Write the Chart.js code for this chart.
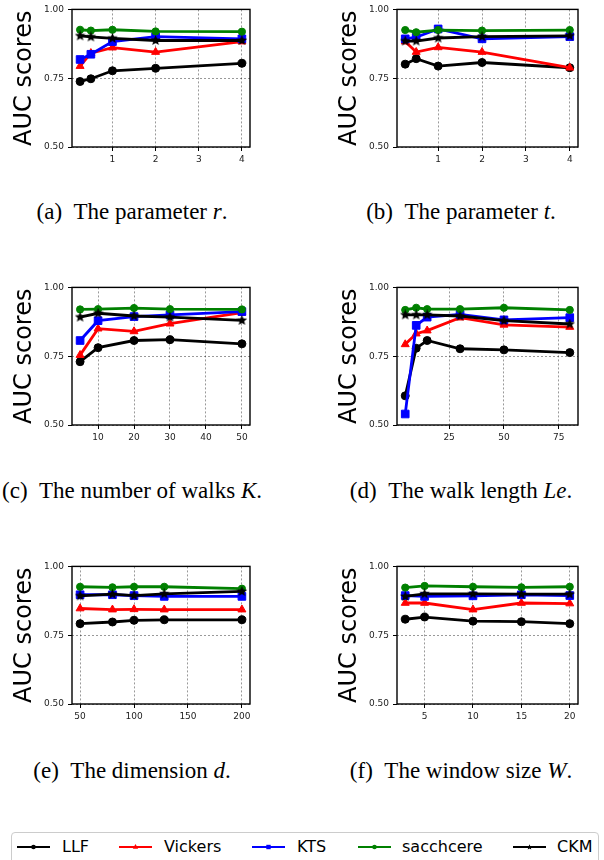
<!DOCTYPE html>
<html>
<head>
<meta charset="utf-8">
<script src="https://cdn.jsdelivr.net/npm/chart.js@4.4.0/dist/chart.umd.min.js"></script>
<style>
  body { margin: 0; width: 604px; height: 860px; background: #fff; position: relative; overflow: hidden; }
  canvas { position: absolute; }
  .caption {
    position: absolute; width: 300px; text-align: center; white-space: nowrap;
    font-family: "Liberation Serif", "Times New Roman", serif; font-size: 23px; line-height: 23px; color: #000;
  }
  .legend {
    position: absolute; left: 11px; top: 832px; width: 586px; height: 40px;
    border: 1px solid #cccccc; border-radius: 4px; background: #fff;
  }
  .legend svg { position: absolute; top: 9px; }
  .legend span {
    position: absolute; top: 6px; font-family: "DejaVu Sans", sans-serif; font-size: 16px; line-height: 16px; color: #000;
  }
</style>
</head>
<body>

<div class="caption" style="left:-18px; top:200px;">(a)&ensp;The parameter <i>r</i>.</div>
<div class="caption" style="left:311px; top:200px;">(b)&ensp;The parameter <i>t</i>.</div>
<div class="caption" style="left:-18px; top:479px;">(c)&ensp;The number of walks <i>K</i>.</div>
<div class="caption" style="left:311px; top:479px;">(d)&ensp;The walk length <i>Le</i>.</div>
<div class="caption" style="left:-18px; top:759px;">(e)&ensp;The dimension <i>d</i>.</div>
<div class="caption" style="left:311px; top:759px;">(f)&ensp;The window size <i>W</i>.</div>

<div class="legend">
  <svg style="left:5px" width="34" height="10"><line x1="0" y1="5" x2="33" y2="5" stroke="#000" stroke-width="2"/><circle cx="16.5" cy="5" r="2.3" fill="#000"/></svg>
  <span style="left:50px">LLF</span>
  <svg style="left:107px" width="34" height="10"><line x1="0" y1="5" x2="33" y2="5" stroke="#f00" stroke-width="2"/><polygon points="16.5,2 19.2,6.7 13.8,6.7" fill="#f00"/></svg>
  <span style="left:152px">Vickers</span>
  <svg style="left:240px" width="34" height="10"><line x1="0" y1="5" x2="33" y2="5" stroke="#00f" stroke-width="2"/><rect x="14.3" y="2.8" width="4.4" height="4.4" fill="#00f"/></svg>
  <span style="left:285px">KTS</span>
  <svg style="left:346px" width="34" height="10"><line x1="0" y1="5" x2="33" y2="5" stroke="#008000" stroke-width="2"/><circle cx="16.5" cy="5" r="2.3" fill="#008000"/></svg>
  <span style="left:390px">sacchcere</span>
  <svg style="left:501px" width="34" height="10"><line x1="0" y1="5" x2="33" y2="5" stroke="#000" stroke-width="2"/><polygon points="16.5,2.2 17.3,4.2 19.3,4.3 17.8,5.6 18.3,7.6 16.5,6.5 14.7,7.6 15.2,5.6 13.7,4.3 15.7,4.2" fill="#000"/></svg>
  <span style="left:545px">CKM</span>
</div>

<script>
// ---------------- Data: x values per panel ----------------
const rValues = [0.25, 0.5, 1, 2, 4];
const tValues = [0.25, 0.5, 1, 2, 4];
const walkCounts = [5, 10, 20, 30, 50];
const walkLengths = [5, 10, 15, 30, 50, 80];
const dimensions = [50, 80, 100, 128, 200];
const windowSizes = [3, 5, 10, 15, 20];

// ---------------- Data: tick labels ----------------
const rTicks = [1, 2, 3, 4];
const tTicks = [1, 2, 3, 4];
const kTicks = [10, 20, 30, 40, 50];
const leTicks = [25, 50, 75];
const dTicks = [50, 100, 150, 200];
const wTicks = [5, 10, 15, 20];
const aucTicks = [0.5, 0.75, 1.0];

// ---------------- Data: AUC scores ----------------
// (a) parameter r
const llfA = [0.738, 0.748, 0.777, 0.786, 0.804];
const vickersA = [0.794, 0.841, 0.861, 0.845, 0.883];
const ktsA = [0.818, 0.837, 0.883, 0.901, 0.893];
const sacchA = [0.926, 0.923, 0.926, 0.920, 0.919];
const ckmA = [0.904, 0.900, 0.895, 0.887, 0.887];
// (b) parameter t
const llfB = [0.801, 0.821, 0.794, 0.807, 0.788];
const vickersB = [0.883, 0.845, 0.862, 0.845, 0.788];
const ktsB = [0.893, 0.899, 0.929, 0.893, 0.901];
const sacchB = [0.925, 0.917, 0.925, 0.923, 0.925];
const ckmB = [0.885, 0.885, 0.896, 0.901, 0.904];
// (c) number of walks K
const llfC = [0.730, 0.781, 0.807, 0.810, 0.795];
const vickersC = [0.754, 0.850, 0.840, 0.868, 0.908];
const ktsC = [0.807, 0.879, 0.894, 0.900, 0.912];
const sacchC = [0.920, 0.921, 0.925, 0.921, 0.920];
const ckmC = [0.892, 0.906, 0.896, 0.892, 0.880];
// (d) walk length Le
const llfD = [0.606, 0.779, 0.807, 0.777, 0.773, 0.763];
const vickersD = [0.793, 0.832, 0.843, 0.890, 0.864, 0.856];
const ktsD = [0.540, 0.862, 0.892, 0.902, 0.882, 0.890];
const sacchD = [0.918, 0.926, 0.921, 0.921, 0.926, 0.918];
const ckmD = [0.900, 0.900, 0.900, 0.896, 0.879, 0.867];
// (e) dimension d
const llfE = [0.792, 0.798, 0.804, 0.806, 0.806];
const vickersE = [0.847, 0.843, 0.844, 0.843, 0.843];
const ktsE = [0.897, 0.897, 0.894, 0.891, 0.891];
const sacchE = [0.926, 0.924, 0.926, 0.926, 0.919];
const ckmE = [0.893, 0.899, 0.894, 0.900, 0.909];
// (f) window size W
const llfF = [0.808, 0.816, 0.801, 0.799, 0.792];
const vickersF = [0.867, 0.867, 0.843, 0.867, 0.865];
const ktsF = [0.894, 0.891, 0.893, 0.897, 0.894];
const sacchF = [0.923, 0.929, 0.926, 0.924, 0.926];
const ckmF = [0.891, 0.900, 0.900, 0.899, 0.899];

const seriesNames = ['LLF', 'Vickers', 'KTS', 'sacchcere', 'CKM'];

// ---------------- Styles ----------------
const seriesColors = ['#000000', '#ff0000', '#0000ff', '#008000', '#000000'];

// filled star like matplotlib's '*' marker
function makeStar(size, color) {
  const c = document.createElement('canvas');
  c.width = size; c.height = size;
  const g = c.getContext('2d');
  const R = size / 2, r = R * 0.45;
  g.beginPath();
  for (let i = 0; i < 10; i++) {
    const rad = i % 2 ? r : R;
    const ang = -Math.PI / 2 + i * Math.PI / 5;
    g.lineTo(R + rad * Math.cos(ang), R + rad * Math.sin(ang));
  }
  g.closePath();
  g.fillStyle = color;
  g.fill();
  return c;
}

const seriesMarkers = ['circle', 'triangle', 'rect', 'circle', makeStar(11, '#000000')];
const seriesRadius = [4, 4.6, 5.4, 3.6, 5];

// plot area of each panel on the page
const panels = [
  { x: rValues, ticks: rTicks, series: [llfA, vickersA, ktsA, sacchA, ckmA], left: 72, top: 7, width: 178 },
  { x: tValues, ticks: tTicks, series: [llfB, vickersB, ktsB, sacchB, ckmB], left: 397, top: 7, width: 181 },
  { x: walkCounts, ticks: kTicks, series: [llfC, vickersC, ktsC, sacchC, ckmC], left: 72, top: 285, width: 178 },
  { x: walkLengths, ticks: leTicks, series: [llfD, vickersD, ktsD, sacchD, ckmD], left: 397, top: 285, width: 181 },
  { x: dimensions, ticks: dTicks, series: [llfE, vickersE, ktsE, sacchE, ckmE], left: 72, top: 564, width: 178 },
  { x: windowSizes, ticks: wTicks, series: [llfF, vickersF, ktsF, sacchF, ckmF], left: 397, top: 564, width: 181 }
];

const Y_AXIS_W = 72;
const X_AXIS_H = 28;
const PAD_TOP = 7;
const PLOT_H = 140;

// black box around the plot, like matplotlib spines
const framePlugin = {
  id: 'frame',
  afterDatasetsDraw(chart) {
    const { ctx, chartArea: a } = chart;
    ctx.save();
    ctx.strokeStyle = '#000';
    ctx.lineWidth = 1.4;
    ctx.strokeRect(a.left, a.top, a.right - a.left, a.bottom - a.top);
    ctx.restore();
  }
};

const tickFont = { family: 'DejaVu Sans', size: 9 };

function makePanel(p) {
  const canvas = document.createElement('canvas');
  canvas.width = Y_AXIS_W + p.width + 20;
  canvas.height = PAD_TOP + PLOT_H + X_AXIS_H;
  canvas.style.left = (p.left - Y_AXIS_W) + 'px';
  canvas.style.top = (p.top - PAD_TOP) + 'px';
  document.body.appendChild(canvas);

  // matplotlib default 5% margins on x
  const lo = Math.min(...p.x), hi = Math.max(...p.x);
  const margin = (hi - lo) * 0.05;

  const datasets = p.series.map((vals, i) => ({
    label: seriesNames[i],
    data: p.x.map((xv, j) => ({ x: xv, y: vals[j] })),
    borderColor: seriesColors[i],
    backgroundColor: seriesColors[i],
    pointBackgroundColor: seriesColors[i],
    pointBorderColor: seriesColors[i],
    pointBorderWidth: 1,
    pointStyle: seriesMarkers[i],
    pointRadius: seriesRadius[i],
    borderWidth: 2.8,
    tension: 0,
    order: seriesNames.length - i
  }));

  const gridOpts = {
    color: 'rgba(0,0,0,0.5)',
    lineWidth: 0.8,
    drawTicks: true,
    tickLength: 4,
    tickColor: '#000',
    tickWidth: 1,
    tickBorderDash: []
  };

  return new Chart(canvas.getContext('2d'), {
    type: 'line',
    data: { datasets },
    plugins: [framePlugin],
    options: {
      responsive: false,
      animation: false,
      events: [],
      layout: { padding: { top: PAD_TOP, right: canvas.width - Y_AXIS_W - p.width, bottom: 0, left: 0 } },
      plugins: { legend: { display: false }, tooltip: { enabled: false } },
      scales: {
        x: {
          type: 'linear',
          min: lo - margin,
          max: hi + margin,
          bounds: 'data',
          afterBuildTicks: s => { s.ticks = p.ticks.map(v => ({ value: v })); },
          afterFit: s => { s.height = X_AXIS_H; },
          grid: gridOpts,
          border: { display: false, dash: [2, 2] },
          ticks: { color: '#222', font: tickFont, padding: 3, maxRotation: 0, autoSkip: false, callback: v => String(v) }
        },
        y: {
          type: 'linear',
          min: 0.5,
          max: 1.0,
          afterBuildTicks: s => { s.ticks = aucTicks.map(v => ({ value: v })); },
          afterFit: s => { s.width = Y_AXIS_W; },
          grid: gridOpts,
          border: { display: false, dash: [2, 2] },
          ticks: { color: '#222', font: tickFont, padding: 4, callback: v => Number(v).toFixed(2) },
          title: {
            display: true,
            text: 'AUC scores',
            color: '#000',
            font: { family: 'DejaVu Sans', size: 24 },
            padding: { top: 10, bottom: 0 }
          }
        }
      }
    }
  });
}

panels.forEach(makePanel);
</script>
</body>
</html>
